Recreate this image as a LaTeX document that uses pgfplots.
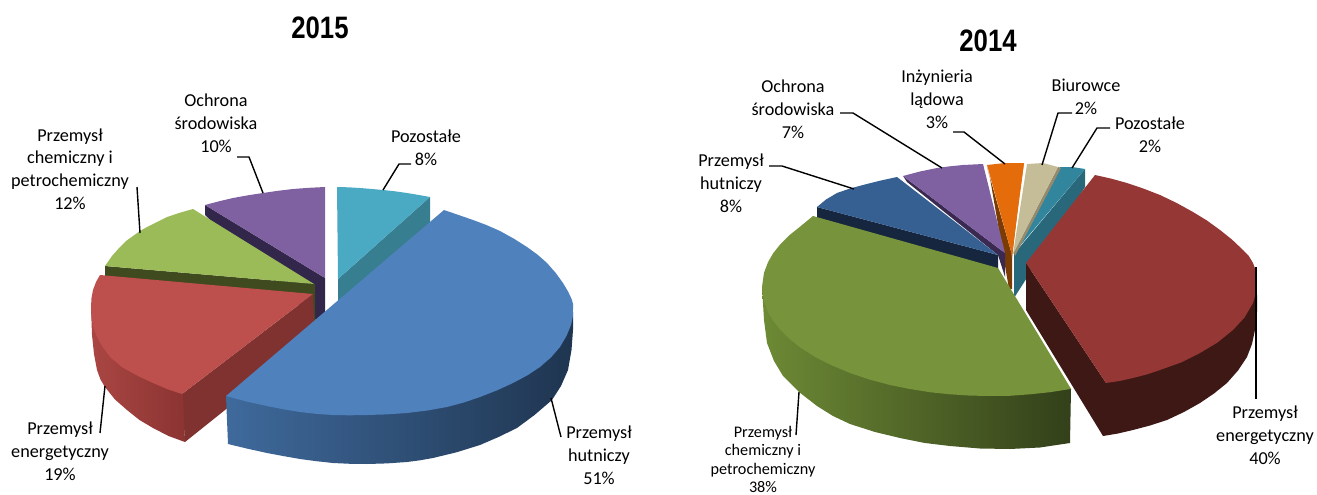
\documentclass[border=0pt]{standalone}
\usepackage{pgfplots}
\pgfplotsset{compat=1.18}
\usepackage{fontspec}
\setmainfont{Carlito}
\newfontfamily\titlefont{Liberation Sans}
\definecolor{tealT}{HTML}{4AA9C3}\definecolor{tealW}{HTML}{377E90}
\definecolor{purT}{HTML}{7F60A0}\definecolor{purW}{HTML}{32264A}
\definecolor{grnT}{HTML}{9BBB59}\definecolor{grnW}{HTML}{3F4A1F}
\definecolor{redT}{HTML}{BD4F4C}\definecolor{redWa}{HTML}{AA4643}\definecolor{redWb}{HTML}{8B3432}\definecolor{redW}{HTML}{7F3230}
\definecolor{bluT}{HTML}{4F81BD}\definecolor{bluWa}{HTML}{3F6A9C}\definecolor{bluWb}{HTML}{213B5A}\definecolor{bluWc}{HTML}{1F3550}
\definecolor{teal2T}{HTML}{31859C}\definecolor{teal2W}{HTML}{29687A}
\definecolor{tanT}{HTML}{C4BD97}\definecolor{tanW}{HTML}{948A6E}
\definecolor{oraT}{HTML}{E46C0A}\definecolor{oraW}{HTML}{7A3B05}\definecolor{oraR}{HTML}{B85A08}
\definecolor{pur2W}{HTML}{3A2A52}
\definecolor{blu2T}{HTML}{376092}\definecolor{blu2W}{HTML}{16263F}
\definecolor{grn2T}{HTML}{77933C}\definecolor{grn2a}{HTML}{6D8A35}\definecolor{grn2b}{HTML}{4A5D25}\definecolor{grn2c}{HTML}{33401A}
\definecolor{dred}{HTML}{953735}\definecolor{dredW}{HTML}{3D1815}
\pgfplotsset{
  face/.style={draw=none,fill=#1,forget plot,no markers},
  leader/.style={black,line width=1.4pt,no markers,forget plot,line join=round},
}
\newcommand{\lab}{\fontsize{18.2}{22.8}\selectfont}
\begin{document}
\begin{tikzpicture}
\useasboundingbox (0,0) rectangle (1317pt,495pt);
\begin{axis}[at={(0,0)},anchor=south west,scale only axis,width=1317pt,height=495pt,xmin=0,xmax=1317,ymin=0,ymax=495,y dir=reverse,hide axis,clip=false]
% ---------- 2015 ----------
% Pozostale 8%
\addplot[face=tealW] coordinates {(430,197)(430,225)(338,305)(338,279)} --cycle;
\addplot[face=tealT] coordinates {(337,187)(348,187.3)(360,188)(372,189)(383,190)(395,191.3)(407,193)(419,195)(430,197)(338,279)} --cycle;
% Ochrona 10%
\addplot[face=purW] coordinates {(205,205)(205,215)(315,320)(325,313)(325,278)} --cycle;
\addplot[face=purT] coordinates {(205,205)(219,201.3)(233,198)(248,195.3)(263,193)(278,190.8)(293,189)(309,187.8)(325,187)(325,278)} --cycle;
% Chemiczny 12%
\addplot[face=grnW] coordinates {(105,266)(105,277)(312,298)(314,325)(315,325)(315,284)} --cycle;
\addplot[face=grnT] coordinates {(105,266)(112,256)(120,247)(126,241)(133,236)(140,231)(147,227)(157,222)(167,217)(180,212.7)(193,209)(314,284)} --cycle;
% Energetyczny 19%
\addplot[face=redW] coordinates {(182,394)(185,442)(315,338)(313,294)} --cycle;
\addplot[draw=none,left color=redWa,right color=redWb,forget plot,no markers] coordinates {(91,307)(135,300)(183,394)(185,442)(168.5,436)(153,428)(139.5,420)(127,410)(115,399.5)(105,387)(100.5,379.5)(97,370)(94,354)(92,335)} --cycle;
\addplot[face=redT] coordinates {(100,275)(96,282)(93,290)(91.5,298)(91,307)(91.5,317)(93,327)(96,334.5)(99,341)(103,347.5)(107,353)(111,358)(116,362)(121,366.5)(127,370)(140,377)(153,383)(167,389)(182,394)(313,294)} --cycle;
% Hutniczy 51%
\addplot[draw=none,left color=bluWa,middle color=bluWb,right color=bluWc,forget plot,no markers] coordinates {(573,312)(400,330)(226,396)(228,444)(247.5,448.7)(267,453)(283.5,456.1)(300,459)(316.5,461.2)(333,463)(350,463.8)(367,464)(387,463.4)(407,462)(420,460.3)(433,458)(456.5,452.3)(480,445)(498.5,437)(517,428)(534.5,415)(552,400)(561,386)(568,370)(571.5,350)(573,330)} --cycle;
\addplot[face=bluT] coordinates {(444,210)(458,214.8)(473,220)(486.6,225.1)(500,231)(513.9,238.7)(527,247)(537.7,254.8)(547,263)(555.7,272.9)(563,283)(568.4,292.1)(572,300)(573.2,305.1)(573,310)(572.8,316.8)(571,325)(566.6,335.7)(560,347)(551,357.4)(540,367)(527.3,375.4)(513,383)(496.9,390.4)(480,397)(463.9,402.5)(447,407)(427.4,410.5)(407,413)(386.6,414.4)(367,415)(349.6,415.3)(333,415)(316.4,413.9)(300,412)(284,409.4)(267,406)(246.5,401.5)(226,396)} --cycle;
% leaders 2015
\addplot[leader] coordinates {(237,157)(249,157)(263,193)};
\addplot[leader] coordinates {(137,187)(140,233)};
\addplot[leader] coordinates {(411,164)(399,164)(383,190)};
\addplot[leader] coordinates {(105,386)(100,433)};
\addplot[leader] coordinates {(551,398)(561,437)};
% ---------- 2014 ----------
% Pozostale 2%
\addplot[face=teal2W] coordinates {(1085,169)(1085,187)(1014,298)(1014,254)} --cycle;
\addplot[face=teal2T] coordinates {(1060,167)(1072,167)(1085,169)(1013,254)} --cycle;
% Biurowce 2%
\addplot[face=tanW] coordinates {(1058,167)(1061,168)(1015,256)(1014,252)} --cycle;
\addplot[face=tanT] coordinates {(1027,164)(1043,163)(1058,167)(1013,254)} --cycle;
% Inzynieria 3%
\addplot[face=oraW] coordinates {(987,167)(990,178)(1009,289)(1012,289)(1012,255)} --cycle;
\addplot[face=oraR] coordinates {(1024,163)(1022,172)(1012,258)(1011,254)} --cycle;
\addplot[face=oraT] coordinates {(987,165)(1005,163)(1024,163)(1012,255)} --cycle;
% Ochrona 7%
\addplot[face=pur2W] coordinates {(903,176)(907,182)(998,255)(1005,277)(1005,253)} --cycle;
\addplot[face=purT] coordinates {(903,176)(920,171.5)(937,168)(950,166.3)(963,165)(983,164)(1005,253)} --cycle;
% Hutniczy 8%
\addplot[face=blu2W] coordinates {(817,207)(817,219)(998,272)(998,255)} --cycle;
\addplot[face=blu2T] coordinates {(817,207)(826,199.5)(837,193)(850,188.5)(863,185)(880,180.7)(897,177)(998,255)} --cycle;
% Chemiczny 38%
\addplot[draw=none,left color=grn2a,middle color=grn2b,right color=grn2c,forget plot,no markers] coordinates {(762,287)(900,300)(1071,389)(1070,443)(1040,447.5)(1010,449)(980,448.5)(950,446)(925,443)(900,438)(875,432)(850,424)(833,416)(817,406)(799,392)(783,376)(774,361)(767,343)(764,320)} --cycle;
\addplot[face=grn2T] coordinates {(813,216)(800,226.7)(790,234.7)(780,244.6)(773,253.5)(768,262.2)(764,272.7)(762,287)(764,301.3)(768,311.9)(773,320.5)(780,329.4)(790,339.3)(800,347.3)(815,356.9)(830,364.6)(850,373)(870,379.7)(890,385)(910,389)(930,392.2)(950,394.3)(970,395.6)(990,396)(1010,395.8)(1030,394.3)(1050,392.2)(1071,388.9)(998,268)} --cycle;
% Energetyczny 40%
\addplot[face=dredW] coordinates {(1026,263)(1026,310)(1103,436)(1118,433.5)(1133,430)(1150,425.5)(1167,420)(1184,412)(1200,403)(1214,393.5)(1227,383)(1238,370.5)(1247,357)(1252,344)(1255,330)(1257,312)(1257,295)(1200,300)(1106,383)} --cycle;
\addplot[face=dred] coordinates {(1095,175)(1111,178.6)(1127,183)(1143.5,188.6)(1160,195)(1176.7,203)(1193,212)(1206.9,220.5)(1220,230)(1232,239.6)(1243,250)(1248.8,256)(1253,263)(1256,271)(1257,280)(1256.3,291.5)(1253,303)(1244.5,317.5)(1233,330)(1217.5,342.5)(1200,353)(1181,362.5)(1160,370)(1146.5,374.5)(1133,378)(1119.5,381)(1106,383)(1026,263)} --cycle;
% leaders 2014
\addplot[leader] coordinates {(840,113)(853,113)(942,168)};
\addplot[leader] coordinates {(769,166)(782,166)(854,189)};
\addplot[leader] coordinates {(953,132)(964,132)(1005,164)};
\addplot[leader] coordinates {(1072,113)(1058,113)(1042,165)};
\addplot[leader] coordinates {(1110,128)(1097,128)(1072,168)};
\addplot[leader] coordinates {(799,392)(796,435)};
\addplot[leader] coordinates {(1256,267)(1256,399)};
% ---------- text ----------
\node[xscale=.83] at (axis cs:320,28) {\titlefont\bfseries\fontsize{31}{34}\selectfont 2015};
\node[xscale=.83] at (axis cs:988,41) {\titlefont\bfseries\fontsize{31}{34}\selectfont 2014};
\node[align=center,font=\lab] at (axis cs:216,123) {Ochrona\\środowiska\\10\%};
\node[align=center,font=\lab] at (axis cs:70,169) {Przemysł\\chemiczny i\\petrochemiczny\\12\%};
\node[align=center,font=\lab] at (axis cs:426,148) {Pozostałe\\8\%};
\node[align=center,font=\lab] at (axis cs:60,451) {Przemysł\\energetyczny\\19\%};
\node[align=center,font=\lab] at (axis cs:599,455) {Przemysł\\hutniczy\\51\%};
\node[align=center,font=\lab] at (axis cs:793,109) {Ochrona\\środowiska\\7\%};
\node[align=center,font=\lab] at (axis cs:937,99) {Inżynieria\\lądowa\\3\%};
\node[align=center,font=\lab] at (axis cs:1086,97) {Biurowce\\2\%};
\node[align=center,font=\lab] at (axis cs:1150,135) {Pozostałe\\2\%};
\node[align=center,font=\lab] at (axis cs:731,183) {Przemysł\\hutniczy\\8\%};
\node[align=center,font=\lab] at (axis cs:1265,435) {Przemysł\\energetyczny\\40\%};
\node[align=center,font=\fontsize{16.2}{18.6}\selectfont] at (axis cs:763,459.5) {Przemysł\\chemiczny i\\petrochemiczny\\38\%};
\end{axis}
\end{tikzpicture}
\end{document}
